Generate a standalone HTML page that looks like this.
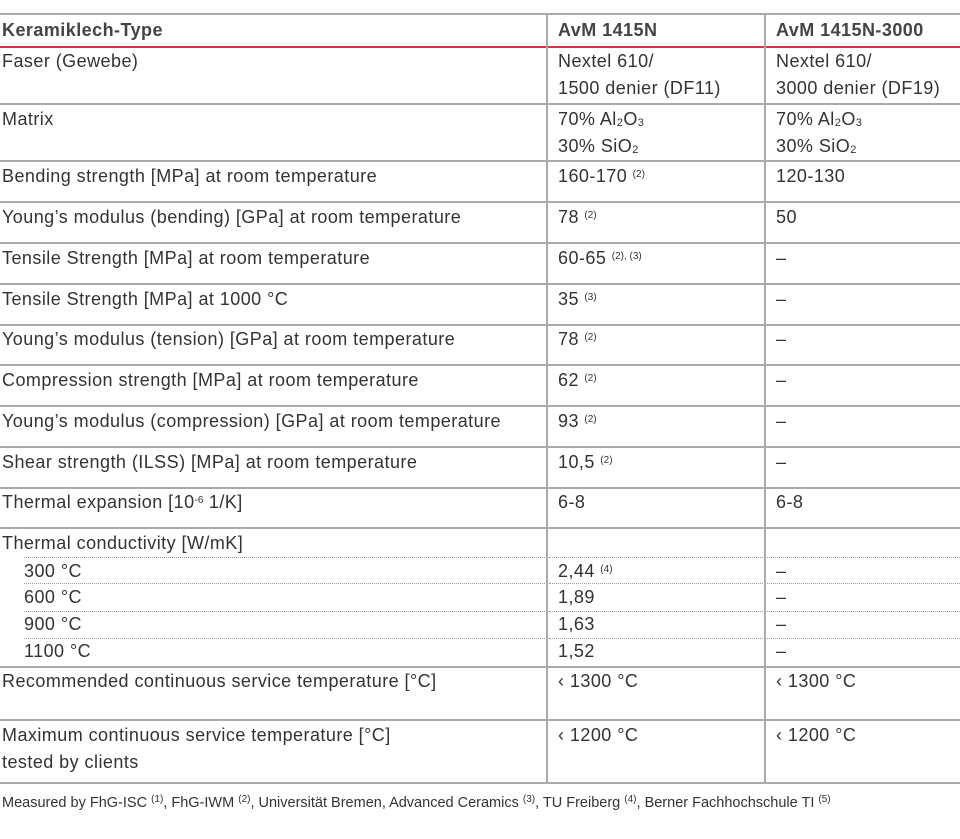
<!DOCTYPE html><html><head><meta charset="utf-8"><style>
body{margin:0;width:960px;height:839px;background:#fff;position:relative;overflow:hidden;font-family:"Liberation Sans",sans-serif;color:#333;font-size:18px;letter-spacing:0.45px}
.h{position:absolute;left:0;width:960px;height:0;border-top:2px solid #aaa}
.d{position:absolute;height:0;border-top:1px dotted #999}
.v{position:absolute;width:0;border-left:2px solid #aaa}
.t{position:absolute;line-height:27px;white-space:nowrap}
sup{font-size:10px;vertical-align:5px;line-height:0;letter-spacing:0}
sub{font-size:11px;vertical-align:-1px;line-height:0}
b{font-weight:bold;color:#444}
</style></head><body>
<div class="h" style="top:13px"></div>
<div class="h" style="top:46px;border-color:#d9304a"></div>
<div class="h" style="top:103px"></div>
<div class="h" style="top:160px"></div>
<div class="h" style="top:201px"></div>
<div class="h" style="top:242px"></div>
<div class="h" style="top:283px"></div>
<div class="h" style="top:324px"></div>
<div class="h" style="top:364px"></div>
<div class="h" style="top:405px"></div>
<div class="h" style="top:446px"></div>
<div class="h" style="top:487px"></div>
<div class="h" style="top:527px"></div>
<div class="d" style="top:557px;left:24px;width:523px"></div><div class="d" style="top:557px;left:549px;width:216px"></div><div class="d" style="top:557px;left:767px;width:193px"></div>
<div class="d" style="top:583px;left:24px;width:523px"></div><div class="d" style="top:583px;left:549px;width:216px"></div><div class="d" style="top:583px;left:767px;width:193px"></div>
<div class="d" style="top:611px;left:24px;width:523px"></div><div class="d" style="top:611px;left:549px;width:216px"></div><div class="d" style="top:611px;left:767px;width:193px"></div>
<div class="d" style="top:638px;left:24px;width:523px"></div><div class="d" style="top:638px;left:549px;width:216px"></div><div class="d" style="top:638px;left:767px;width:193px"></div>
<div class="h" style="top:666px"></div>
<div class="h" style="top:719px"></div>
<div class="h" style="top:782px"></div>
<div class="v" style="left:546px;top:14px;height:769px"></div>
<div class="v" style="left:764px;top:14px;height:769px"></div>

<div class="t" style="left:2px;top:17px"><b>Keramiklech-Type</b></div>
<div class="t" style="left:558px;top:17px"><b>AvM 1415N</b></div>
<div class="t" style="left:776px;top:17px"><b>AvM 1415N-3000</b></div>

<div class="t" style="left:2px;top:48px">Faser (Gewebe)</div>
<div class="t" style="left:558px;top:48px">Nextel 610/<br>1500 denier (DF11)</div>
<div class="t" style="left:776px;top:48px">Nextel 610/<br>3000 denier (DF19)</div>

<div class="t" style="left:2px;top:106px">Matrix</div>
<div class="t" style="left:558px;top:106px">70% Al<sub>2</sub>O<sub>3</sub><br>30% SiO<sub>2</sub></div>
<div class="t" style="left:776px;top:106px">70% Al<sub>2</sub>O<sub>3</sub><br>30% SiO<sub>2</sub></div>

<div class="t" style="left:2px;top:163px">Bending strength [MPa] at room temperature</div>
<div class="t" style="left:558px;top:163px">160-170 <sup>(2)</sup></div>
<div class="t" style="left:776px;top:163px">120-130</div>

<div class="t" style="left:2px;top:204px">Young’s modulus (bending) [GPa] at room temperature</div>
<div class="t" style="left:558px;top:204px">78 <sup>(2)</sup></div>
<div class="t" style="left:776px;top:204px">50</div>

<div class="t" style="left:2px;top:245px">Tensile Strength [MPa] at room temperature</div>
<div class="t" style="left:558px;top:245px">60-65 <sup>(2), (3)</sup></div>
<div class="t" style="left:776px;top:245px">–</div>

<div class="t" style="left:2px;top:286px">Tensile Strength [MPa] at 1000 °C</div>
<div class="t" style="left:558px;top:286px">35 <sup>(3)</sup></div>
<div class="t" style="left:776px;top:286px">–</div>

<div class="t" style="left:2px;top:326px">Young’s modulus (tension) [GPa] at room temperature</div>
<div class="t" style="left:558px;top:326px">78 <sup>(2)</sup></div>
<div class="t" style="left:776px;top:326px">–</div>

<div class="t" style="left:2px;top:367px">Compression strength [MPa] at room temperature</div>
<div class="t" style="left:558px;top:367px">62 <sup>(2)</sup></div>
<div class="t" style="left:776px;top:367px">–</div>

<div class="t" style="left:2px;top:408px">Young’s modulus (compression) [GPa] at room temperature</div>
<div class="t" style="left:558px;top:408px">93 <sup>(2)</sup></div>
<div class="t" style="left:776px;top:408px">–</div>

<div class="t" style="left:2px;top:449px">Shear strength (ILSS) [MPa] at room temperature</div>
<div class="t" style="left:558px;top:449px">10,5 <sup>(2)</sup></div>
<div class="t" style="left:776px;top:449px">–</div>

<div class="t" style="left:2px;top:489px">Thermal expansion [10<sup>-6</sup> 1/K]</div>
<div class="t" style="left:558px;top:489px">6-8</div>
<div class="t" style="left:776px;top:489px">6-8</div>

<div class="t" style="left:2px;top:530px">Thermal conductivity [W/mK]</div>
<div class="t" style="left:24px;top:558px">300 °C</div><div class="t" style="left:558px;top:558px">2,44 <sup>(4)</sup></div><div class="t" style="left:776px;top:558px">–</div>
<div class="t" style="left:24px;top:584px">600 °C</div><div class="t" style="left:558px;top:584px">1,89</div><div class="t" style="left:776px;top:584px">–</div>
<div class="t" style="left:24px;top:611px">900 °C</div><div class="t" style="left:558px;top:611px">1,63</div><div class="t" style="left:776px;top:611px">–</div>
<div class="t" style="left:24px;top:638px">1100 °C</div><div class="t" style="left:558px;top:638px">1,52</div><div class="t" style="left:776px;top:638px">–</div>

<div class="t" style="left:2px;top:668px">Recommended continuous service temperature [°C]</div>
<div class="t" style="left:558px;top:668px">‹ 1300 °C</div>
<div class="t" style="left:776px;top:668px">‹ 1300 °C</div>

<div class="t" style="left:2px;top:722px">Maximum continuous service temperature [°C]<br>tested by clients</div>
<div class="t" style="left:558px;top:722px">‹ 1200 °C</div>
<div class="t" style="left:776px;top:722px">‹ 1200 °C</div>

<div class="t" style="left:2px;top:790px;font-size:14.5px;letter-spacing:0px">Measured by FhG-ISC <sup>(1)</sup>, FhG-IWM <sup>(2)</sup>, Universität Bremen, Advanced Ceramics <sup>(3)</sup>, TU Freiberg <sup>(4)</sup>, Berner Fachhochschule TI <sup>(5)</sup></div>
</body></html>
